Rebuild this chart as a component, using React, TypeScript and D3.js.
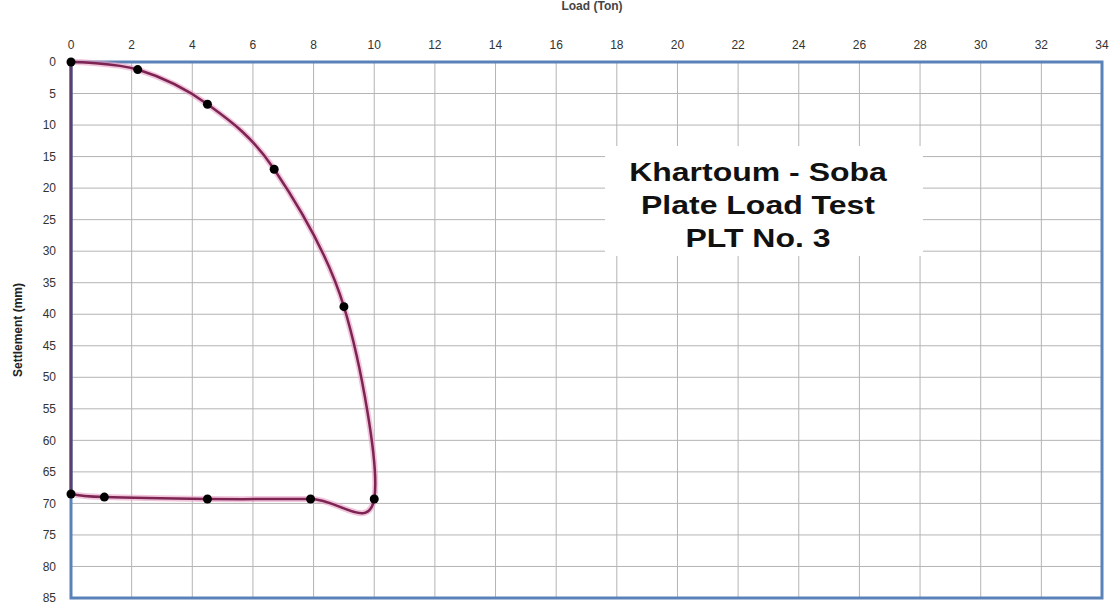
import React, { useEffect, useRef } from 'react';
import * as d3 from 'd3';

// Load (Ton) vs settlement (mm), loading then unloading
const loads = [0, 2.2, 4.5, 6.7, 9.0, 10.0, 7.9, 4.5, 1.1, 0];
const settlements = [0, 1.2, 6.7, 17.0, 38.8, 69.3, 69.3, 69.3, 69.0, 68.5];

const xTicks = d3.range(0, 35, 2);
const yTicks = d3.range(0, 90, 5);
const titleLines = ['Khartoum - Soba', 'Plate Load Test', 'PLT No. 3'];

const W = 1116;
const H = 606;
const margin = { top: 62, right: 12, bottom: 8, left: 71 };

const App: React.FC = () => {
  const svgRef = useRef<SVGSVGElement>(null);

  useEffect(() => {
    if (!svgRef.current) return;
    const svg = d3.select(svgRef.current);
    svg.selectAll('*').remove();

    const x = d3.scaleLinear().domain([0, 34]).range([margin.left, W - margin.right - 2]);
    const y = d3.scaleLinear().domain([0, 85]).range([margin.top, H - margin.bottom]);

    const font = 'Arial, "Liberation Sans", sans-serif';

    // axis title at the very top, partly cut off as in the source
    svg.append('text')
      .attr('x', 592)
      .attr('y', 10)
      .attr('text-anchor', 'middle')
      .attr('font-family', font)
      .attr('font-weight', 'bold')
      .attr('font-size', 12)
      .attr('fill', '#444')
      .text('Load (Ton)');

    // grid
    const grid = svg.append('g').attr('stroke', '#b4b4b4').attr('stroke-width', 1);
    xTicks.forEach((t) => {
      grid.append('line')
        .attr('x1', x(t)).attr('x2', x(t))
        .attr('y1', y(0)).attr('y2', y(85));
    });
    yTicks.forEach((t) => {
      grid.append('line')
        .attr('x1', x(0)).attr('x2', x(34))
        .attr('y1', y(t)).attr('y2', y(t));
    });

    // tick labels
    svg.append('g')
      .selectAll('text')
      .data(xTicks)
      .join('text')
      .attr('x', (d) => x(d))
      .attr('y', margin.top - 13)
      .attr('text-anchor', 'middle')
      .attr('font-family', font)
      .attr('font-size', 12)
      .attr('fill', '#333')
      .text((d) => d);

    svg.append('g')
      .selectAll('text')
      .data(yTicks)
      .join('text')
      .attr('x', margin.left - 15)
      .attr('y', (d) => y(d))
      .attr('dy', '0.35em')
      .attr('text-anchor', 'end')
      .attr('font-family', font)
      .attr('font-size', 12)
      .attr('fill', '#333')
      .text((d) => d);

    svg.append('text')
      .attr('transform', `translate(22,${(y(0) + y(85)) / 2}) rotate(-90)`)
      .attr('text-anchor', 'middle')
      .attr('font-family', font)
      .attr('font-weight', 'bold')
      .attr('font-size', 12)
      .attr('fill', '#222')
      .text('Settlement (mm)');

    // title box
    const tx = 758;
    svg.append('rect')
      .attr('x', 605).attr('y', 146)
      .attr('width', 318).attr('height', 110)
      .attr('fill', '#fff');
    titleLines.forEach((line, i) => {
      svg.append('text')
        .attr('transform', `translate(${tx},${181 + i * 33}) scale(1.28,1)`)
        .attr('text-anchor', 'middle')
        .attr('font-family', font)
        .attr('font-weight', 'bold')
        .attr('font-size', 25)
        .attr('fill', '#111')
        .text(line);
    });

    // plot border
    svg.append('rect')
      .attr('x', x(0)).attr('y', y(0))
      .attr('width', x(34) - x(0)).attr('height', y(85) - y(0))
      .attr('fill', 'none')
      .attr('stroke', '#5a82b8')
      .attr('stroke-width', 3);
    // left edge drawn darker along the loaded portion
    svg.append('line')
      .attr('x1', x(0)).attr('x2', x(0))
      .attr('y1', y(0)).attr('y2', y(settlements[settlements.length - 1]))
      .attr('stroke', '#5b3f6e')
      .attr('stroke-width', 3);

    const pts: [number, number][] = loads.map((l, i) => [l, settlements[i]]);
    const line = d3.line<[number, number]>()
      .x((d) => x(d[0]))
      .y((d) => y(d[1]))
      .curve(d3.curveCardinal.tension(0));

    svg.append('path')
      .attr('d', line(pts) as string)
      .attr('fill', 'none')
      .attr('stroke', '#e8a0c4')
      .attr('stroke-width', 6)
      .attr('opacity', 0.6);
    svg.append('path')
      .attr('d', line(pts) as string)
      .attr('fill', 'none')
      .attr('stroke', '#7d2453')
      .attr('stroke-width', 2.5);

    svg.append('g')
      .selectAll('circle')
      .data(pts)
      .join('circle')
      .attr('cx', (d) => x(d[0]))
      .attr('cy', (d) => y(d[1]))
      .attr('r', 4.5)
      .attr('fill', '#000');
  }, []);

  return (
    <div style={{ position: 'absolute', left: 0, top: 0 }}>
      <svg ref={svgRef} width={W} height={H} style={{ display: 'block', background: '#fff' }} />
    </div>
  );
};

export default App;
